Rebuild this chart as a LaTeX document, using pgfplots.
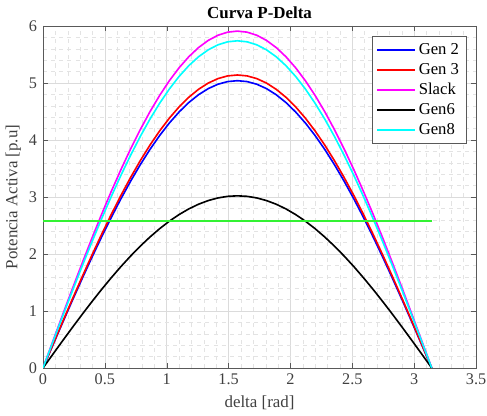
\documentclass[border=0pt]{standalone}
\usepackage{pgfplots}
\usepackage{pgfplotstable}
\pgfplotsset{compat=1.18}
\usetikzlibrary{calc}
\usepackage{fontspec}
\setmainfont{Liberation Serif}
\definecolor{mblue}{rgb}{0,0,1}
\definecolor{mred}{rgb}{1,0,0}
\definecolor{mmag}{rgb}{1,0,1}
\definecolor{mcyan}{rgb}{0,1,1}
\definecolor{mgreen}{rgb}{0.2,0.95,0.2}
\pgfplotstableread{
x g2 g3 slack g6 g8
0 0 0 0 0 0
0.0785 0.3954 0.4033 0.4637 0.2369 0.4504
0.1571 0.7884 0.8041 0.9245 0.4724 0.8979
0.2356 1.1766 1.1999 1.3797 0.7050 1.3400
0.3142 1.5574 1.5883 1.8263 0.9332 1.7738
0.3927 1.9287 1.9670 2.2617 1.1557 2.1966
0.4712 2.2881 2.3335 2.6831 1.3711 2.6059
0.5498 2.6334 2.6856 3.0880 1.5779 2.9991
0.6283 2.9624 3.0212 3.4738 1.7751 3.3739
0.7069 3.2732 3.3382 3.8382 1.9613 3.7278
0.7854 3.5638 3.6345 4.1790 2.1355 4.0588
0.8639 3.8324 3.9085 4.4940 2.2964 4.3647
0.9425 4.0774 4.1584 4.7813 2.4432 4.6438
1.0210 4.2973 4.3826 5.0391 2.5750 4.8942
1.0996 4.4907 4.5798 5.2659 2.6908 5.1144
1.1781 4.6564 4.7488 5.4601 2.7901 5.3031
1.2566 4.7933 4.8884 5.6207 2.8722 5.4591
1.3352 4.9007 4.9980 5.7467 2.9366 5.5814
1.4137 4.9780 5.0767 5.8372 2.9828 5.6693
1.4923 5.0245 5.1242 5.8918 3.0107 5.7223
1.5708 5.0400 5.1400 5.9100 3.0200 5.7400
1.6493 5.0245 5.1242 5.8918 3.0107 5.7223
1.7279 4.9780 5.0767 5.8372 2.9828 5.6693
1.8064 4.9007 4.9980 5.7467 2.9366 5.5814
1.8850 4.7933 4.8884 5.6207 2.8722 5.4591
1.9635 4.6564 4.7488 5.4601 2.7901 5.3031
2.0420 4.4907 4.5798 5.2659 2.6908 5.1144
2.1206 4.2973 4.3826 5.0391 2.5750 4.8942
2.1991 4.0774 4.1584 4.7813 2.4432 4.6438
2.2777 3.8324 3.9085 4.4940 2.2964 4.3647
2.3562 3.5638 3.6345 4.1790 2.1355 4.0588
2.4347 3.2732 3.3382 3.8382 1.9613 3.7278
2.5133 2.9624 3.0212 3.4738 1.7751 3.3739
2.5918 2.6334 2.6856 3.0880 1.5779 2.9991
2.6704 2.2881 2.3335 2.6831 1.3711 2.6059
2.7489 1.9287 1.9670 2.2617 1.1557 2.1966
2.8274 1.5574 1.5883 1.8263 0.9332 1.7738
2.9060 1.1766 1.1999 1.3797 0.7050 1.3400
2.9845 0.7884 0.8041 0.9245 0.4724 0.8979
3.0631 0.3954 0.4033 0.4637 0.2369 0.4504
3.1416 0 0 0 0 0
}\datatable
\begin{document}
\begin{tikzpicture}
\begin{axis}[
  scale only axis,
  width=320pt, height=252.7pt,
  xmin=0, xmax=3.5, ymin=0, ymax=6,
  xtick={0,0.5,...,3.5}, ytick={0,1,...,6},
  minor x tick num=4, minor y tick num=4,
  grid=both,
  major grid style={gray!28, line width=0.4pt},
  minor grid style={gray!22, dashed, line width=0.3pt},
  axis line style={gray!70!black},
  tick style={gray!70!black},
  tick align=inside,
  major tick length=3.5pt, minor tick length=0pt,
  every tick label/.append style={font=\fontsize{12}{14}\selectfont, text=black!75},
  /pgf/number format/assume math mode=true,
  xticklabel style={yshift=-1pt},
  yticklabel style={xshift=-1pt},
  title={\bfseries Curva P-Delta},
  title style={font=\fontsize{12.5}{14}\selectfont, at={(axis description cs:0.5,1)}, anchor=center, yshift=3.5pt},
  xlabel={delta [rad]},
  ylabel={Potencia Activa [p.u]},
  label style={font=\fontsize{12.5}{14}\selectfont, text=black!75},
  xlabel style={at={(axis description cs:0.5,0)}, anchor=center, yshift=-25.5pt},
  ylabel style={at={(axis description cs:0,0.5)}, anchor=center, yshift=22pt},
  legend style={at={(0.977,0.97)}, anchor=north east, font=\fontsize{12.3}{14}\selectfont,
    draw=gray!70!black, fill=white, inner xsep=3pt, inner ysep=3pt, row sep=1pt},
  legend cell align=left,
  legend image code/.code={\draw[#1, line width=1.4pt, line cap=butt] (0pt,0pt) -- (28pt,0pt);},
  every axis plot/.append style={line width=1.2pt},
]
\addplot[mblue] table[x=x, y=g2] {\datatable};
\addlegendentry{Gen 2}
\addplot[mred] table[x=x, y=g3] {\datatable};
\addlegendentry{Gen 3}
\addplot[mmag] table[x=x, y=slack] {\datatable};
\addlegendentry{Slack}
\addplot[black] table[x=x, y=g6] {\datatable};
\addlegendentry{Gen6}
\addplot[mcyan] table[x=x, y=g8] {\datatable};
\addlegendentry{Gen8}
\addplot[mgreen, forget plot] coordinates {(0,2.58) (3.1416,2.58)};
\end{axis}
\pgfresetboundingbox
\path ($(current axis.south west)+(-31.8pt,-35.5pt)$) rectangle ($(current axis.north east)+(8.1pt,19.2pt)$);
\end{tikzpicture}
\end{document}
